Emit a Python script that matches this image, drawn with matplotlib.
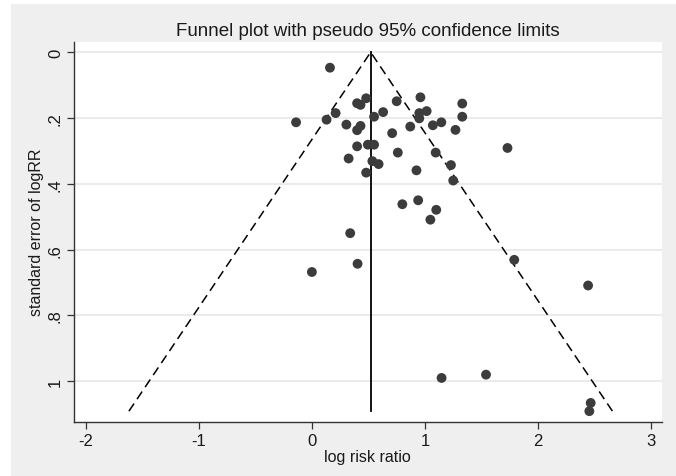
import matplotlib
matplotlib.use("Agg")
import matplotlib.pyplot as plt
from matplotlib.patches import Rectangle
import numpy as np

plt.rcParams['font.family'] = ['Liberation Sans', 'DejaVu Sans']

# ---- data ----
log_rr = [0.16, 0.48, 0.40, 0.43, 0.75, 0.96, 1.33, 0.21, 0.63, 1.015,
          0.95, 0.95, 0.55, 1.33, -0.14, 0.13, 0.305, 0.43, 0.40, 0.87,
          1.07, 1.145, 1.27, 0.71, 0.40, 0.495, 0.55, 1.73, 0.76, 1.095,
          0.325, 0.535, 0.59, 1.23, 0.48, 0.925, 1.25, 0.94, 0.80, 1.10,
          1.048, 0.339, 1.79, 0.404, 0.00, 2.443, 1.147, 1.540, 2.466, 2.454]
se_log_rr = [0.047, 0.140, 0.155, 0.160, 0.149, 0.137, 0.156, 0.185, 0.182, 0.179,
             0.185, 0.201, 0.196, 0.196, 0.213, 0.205, 0.220, 0.224, 0.237, 0.226,
             0.222, 0.213, 0.236, 0.246, 0.286, 0.281, 0.281, 0.291, 0.305, 0.305,
             0.323, 0.331, 0.340, 0.343, 0.366, 0.359, 0.390, 0.450, 0.462, 0.479,
             0.509, 0.550, 0.631, 0.643, 0.668, 0.709, 0.990, 0.980, 1.066, 1.091]
pooled_log_rr = 0.52
z95 = 1.96

x_ticks = [-2, -1, 0, 1, 2, 3]
x_tick_labels = ["-2", "-1", "0", "1", "2", "3"]
y_ticks = [0, 0.2, 0.4, 0.6, 0.8, 1.0]
y_tick_labels = ["0", ".2", ".4", ".6", ".8", "1"]

title = "Funnel plot with pseudo 95% confidence limits"
x_label = "log risk ratio"
y_label = "standard error of logRR"

# ---- figure ----
W, H = 676, 477
fig = plt.figure(figsize=(W / 100, H / 100), dpi=100)
fig.patch.set_facecolor("white")
bg = Rectangle((11 / W, 0.0), 1 - 11 / W, 1 - 5 / H,
               transform=fig.transFigure, facecolor="#efefef",
               edgecolor="none", zorder=-10)
fig.patches.append(bg)

ax = fig.add_axes([74 / W, 1 - 422.7 / H, (661.7 - 74) / W, (422.7 - 42.7) / H])
ax.set_zorder(1)
ax.set_facecolor("white")

se_max = max(se_log_rr)
ax.plot([pooled_log_rr - z95 * se_max, pooled_log_rr, pooled_log_rr + z95 * se_max],
        [se_max, 0, se_max], color="black", lw=1.1, ls=(0, (6, 3.5)), zorder=3)
ax.plot([pooled_log_rr, pooled_log_rr], [0, se_max], color="black", lw=1.3, zorder=3)

ax.scatter(log_rr, se_log_rr, s=50, color="#3c3c3c", edgecolors="none", zorder=4)

ax.set_xlim(-2.104, 3.094)
ax.set_ylim(1.123, -0.032)

ax.set_xticks(x_ticks)
ax.set_xticklabels(x_tick_labels, fontsize=12)
ax.set_yticks(y_ticks)
ax.set_yticklabels(y_tick_labels, fontsize=12, rotation=90, va="center")

ax.grid(axis="y", color="#ebebeb", lw=1.5, zorder=0)
ax.set_axisbelow(True)

for s in ["top", "right"]:
    ax.spines[s].set_visible(False)
for s in ["left", "bottom"]:
    ax.spines[s].set_color("#333333")
    ax.spines[s].set_linewidth(1.0)
ax.tick_params(direction="out", length=5, width=0.9, color="#333333",
               labelcolor="#1a1a1a")
ax.tick_params(axis="x", pad=3)
ax.tick_params(axis="y", pad=3)

ax.set_xlabel(x_label, fontsize=11.5, color="#1a1a1a", labelpad=1)
ax.set_ylabel(y_label, fontsize=11.5, color="#1a1a1a", labelpad=3)

fig.text((74 + 661.7) / 2 / W, 1 - 35.5 / H, title, ha="center", va="baseline",
         fontsize=13.5, color="#1a1a1a")

fig.savefig("out.png", dpi=100, facecolor=fig.get_facecolor())
